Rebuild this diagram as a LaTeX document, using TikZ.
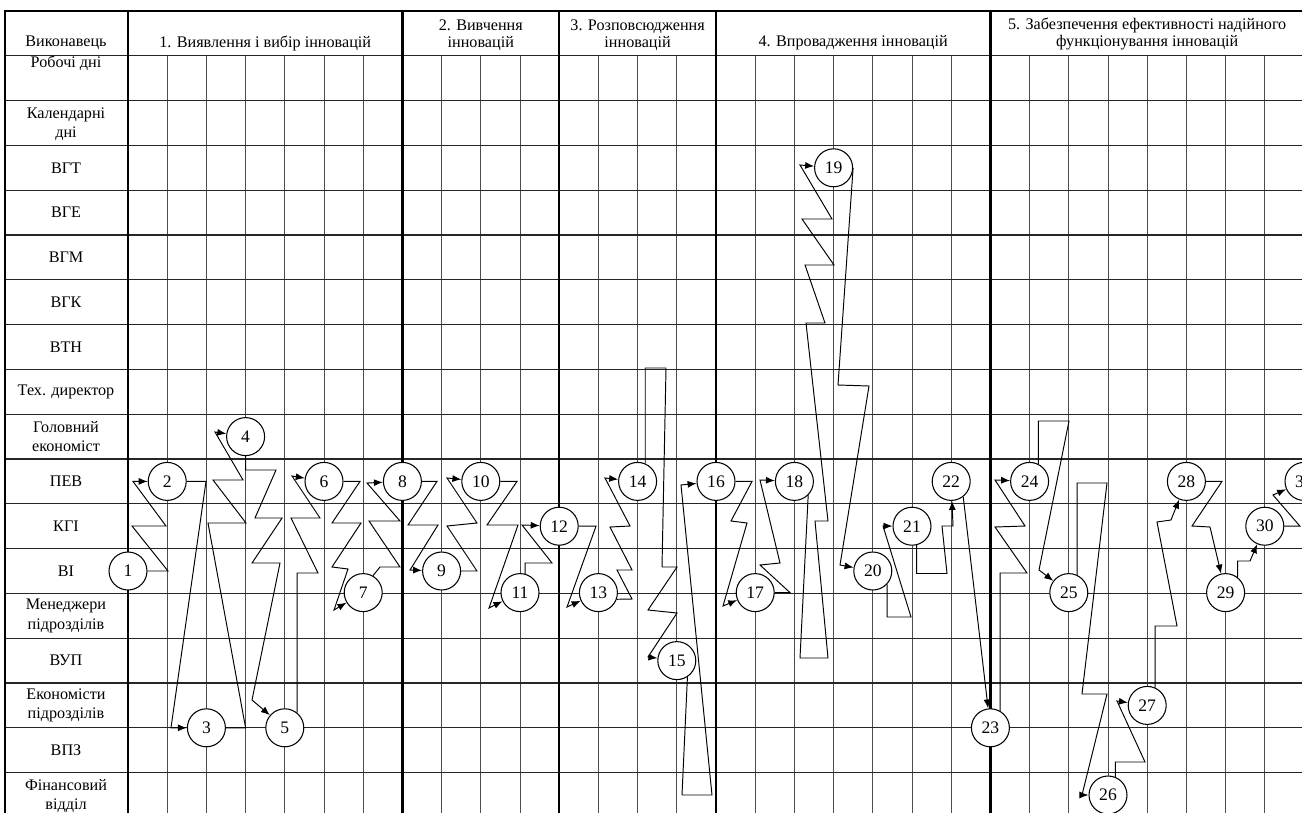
\documentclass[tikz,border=0pt]{standalone}
\usepackage{fontspec}
\setmainfont{Liberation Serif}
\usetikzlibrary{arrows.meta}
\begin{document}
\begin{tikzpicture}[x=0.02cm,y=-0.02cm]
\tikzset{
  gridv/.style={line width=0.5pt, black!70},
  gridh/.style={line width=0.6pt, black!85},
  phaseline/.style={line width=1.3pt, black},
  conn/.style={line width=0.55pt, black, -{Latex[length=1.8mm,width=1.4mm]}},
  num/.style={circle, draw, line width=0.6pt, fill=white, minimum size=0.76cm, inner sep=0pt, font=\fontsize{10}{12}\selectfont},
  lbl/.style={font=\fontsize{9.2}{11}\selectfont, align=center, inner sep=0pt},
  hdr/.style={font=\fontsize{9.2}{9.6}\selectfont, align=center, inner sep=0pt},
}
\useasboundingbox (0,0) rectangle (1302,812);
\clip (0,0) rectangle (1302,812);
\fill[white] (0,0) rectangle (1302,812);
% grid
\foreach \k in {1,...,29} \draw[gridv] ({128+39.2*\k},55.8) -- ({128+39.2*\k},817);
\foreach \r in {1,...,17} \draw[gridh] (5,{11+44.8*\r}) -- (1304,{11+44.8*\r});
\foreach \k in {0,7,11,15,22,30} \draw[phaseline] ({128+39.2*\k},11) -- ({128+39.2*\k},817);
\draw[phaseline] (5,817) -- (5,11) -- (1304,11);
% header
\node[hdr] (h0) at (66,43) {Виконавець};
\node[hdr] (h1) at (265.2,43) {1. Виявлення і вибір інновацій};
\node[hdr] (h2) at (480.8,35) {2. Вивчення\\інновацій};
\node[hdr] (h3) at (637.6,35) {3. Розповсюдження\\інновацій};
\node[hdr] (h4) at (853.2,43) {4. Впровадження інновацій};
\node[hdr] (h5) at (1147.2,34) {5. Забезпечення ефективності надійного\\функціонування інновацій};
% row labels
\node[lbl] (r1) at (66,63) {Робочі дні};
\node[lbl] (r2) at (66,124) {Календарні\\дні};
\node[lbl] (r3) at (66,167.8) {ВГТ};
\node[lbl] (r4) at (66,212.6) {ВГЕ};
\node[lbl] (r5) at (66,257.4) {ВГМ};
\node[lbl] (r6) at (66,302.2) {ВГК};
\node[lbl] (r7) at (66,347) {ВТН};
\node[lbl] (r8) at (66,391.8) {Тех. директор};
\node[lbl] (r9) at (66,436.6) {Головний\\економіст};
\node[lbl] (r10) at (66,481.4) {ПЕВ};
\node[lbl] (r11) at (66,526.2) {КГІ};
\node[lbl] (r12) at (66,571) {ВІ};
\node[lbl] (r13) at (66,615.8) {Менеджери\\підрозділів};
\node[lbl] (r14) at (66,660.6) {ВУП};
\node[lbl] (r15) at (66,705.4) {Економісти\\підрозділів};
\node[lbl] (r16) at (66,750.2) {ВПЗ};
\node[lbl] (r17) at (66,796) {Фінансовий\\відділ};
% event nodes
\foreach \i/\k/\y in {1/0/571, 2/1/481.4, 3/2/727.8, 4/3/436.6, 5/4/727.8, 6/5/481.4, 7/6/592.6, 8/7/481.4, 9/8/571, 10/9/481.4, 11/10/592.6, 12/11/526.2, 13/12/592.6, 14/13/481.4, 15/14/660.6, 16/15/481.4, 17/16/592.6, 18/17/481.4, 19/18/167.8, 20/19/571, 21/20/526.2, 22/21/481.4, 23/22/727.8, 24/23/481.4, 25/24/592.6, 26/25/795, 27/26/705.4, 28/27/481.4, 29/28/592.6, 30/29/526.2, 31/30/481.4}
  \node[num] (n\i) at ({128+39.2*\k},\y) {\i};
% connectors
\draw[conn] (n1.east) -- (168,571) -- (132,526) -- (166,526) -- (133,481.4) -- (n2);
\draw[conn] (n2.east) -- (206,481.4) -- (171,727.8) -- (n3);
\draw[conn] (n3.east) -- (245.6,727.8) -- (208,523) -- (246,523) -- (213,480) -- (243,480) -- (215,432) -- (n4);
\draw[conn] (n4.south) -- (245.6,470) -- (276,470) -- (255,518) -- (282,518) -- (252,563) -- (280,563) -- (252,700) -- (n5);
\draw[conn] (n5.51) |- (318,573) -- (291,518) -- (320,518) -- (292,476) -- (n6);
\draw[conn] (n6.east) -- (360,481.4) -- (332,523) -- (361,523) -- (332,567) -- (348,569) -- (334,610) -- (n7);
\draw[conn] (n7.60) -- (380,567) -- (400,567) -- (369,521) -- (400,521) -- (367,483) -- (n8);
\draw[conn] (n8.east) -- (437,481.4) -- (408,525) -- (438,525) -- (410,570) -- (n9);
\draw[conn] (n9.east) -- (477,571) -- (447,526) -- (477,523) -- (447,478) -- (n10);
\draw[conn] (n10.east) -- (517,481.4) -- (487,525) -- (518,525) -- (489,608) -- (n11);
\draw[conn] (n11.75) |- (552,563) -- (522,525) -- (n12);
\draw[conn] (n12.east) -- (596,526.2) -- (567,607) -- (n13);
\draw[conn] (n13.-20) -- (632,599) -- (617,570) -- (632,570) -- (610,527) -- (630,526) -- (605,478) -- (n14);
\draw[conn] (n14.67) |- (666,368) -- (662,567) -- (677,567) -- (648,610) -- (677,613) -- (648,657) -- (n15);
\draw[conn] (n15.-57) -- (682,795) -- (712,795) -- (681,485) -- (n16);
\draw[conn] (n16.east) -- (752,481.4) -- (731,521) -- (747,523) -- (723,606) -- (n17);
\draw[conn] (n17.east) -- (790,592.6) -- (760,565) -- (780,563) -- (760,480) -- (n18);
\draw[conn] (n18.-45) -- (800,658) -- (828,658) -- (815,521) -- (828,521) -- (806,323) -- (825,323) -- (805,265) -- (834,265) -- (802,219) -- (832,219) -- (800,165) -- (n19);
\draw[conn] (n19.east) -- (838,385) -- (869,386) -- (840,565) -- (n20);
\draw[conn] (n20.-43) |- (911,617) -- (883,526) -- (n21);
\draw[conn] (n21.-76) |- (947,573.5) -- (942,526) -- (953,526) -- (n22);
\draw[conn] (n22.-52) -- (n23);
\draw[conn] (n23.60) |- (1027,573) -- (995,527) -- (1025,526) -- (995,480) -- (n24);
\draw[conn] (n24.63) |- (1069,421) -- (1039,570) -- (n25);
\draw[conn] (n25.65) |- (1107,483) -- (1082,694) -- (1107,694) -- (1082,795) -- (n26);
\draw[conn] (n26.68) |- (1145,762) -- (1117,701) -- (n27);
\draw[conn] (n27.66) |- (1177,626) -- (1157,522) -- (1171,520) -- (n28);
\draw[conn] (n28.east) -- (1222,481.4) -- (1192,526) -- (1210,527) -- (n29);
\draw[conn] (n29.52) |- (1250,561) -- (n30);
\draw[conn] (n30.east) -- (1300,526.2) -- (1273,495) -- (n31);
\end{tikzpicture}
\end{document}
